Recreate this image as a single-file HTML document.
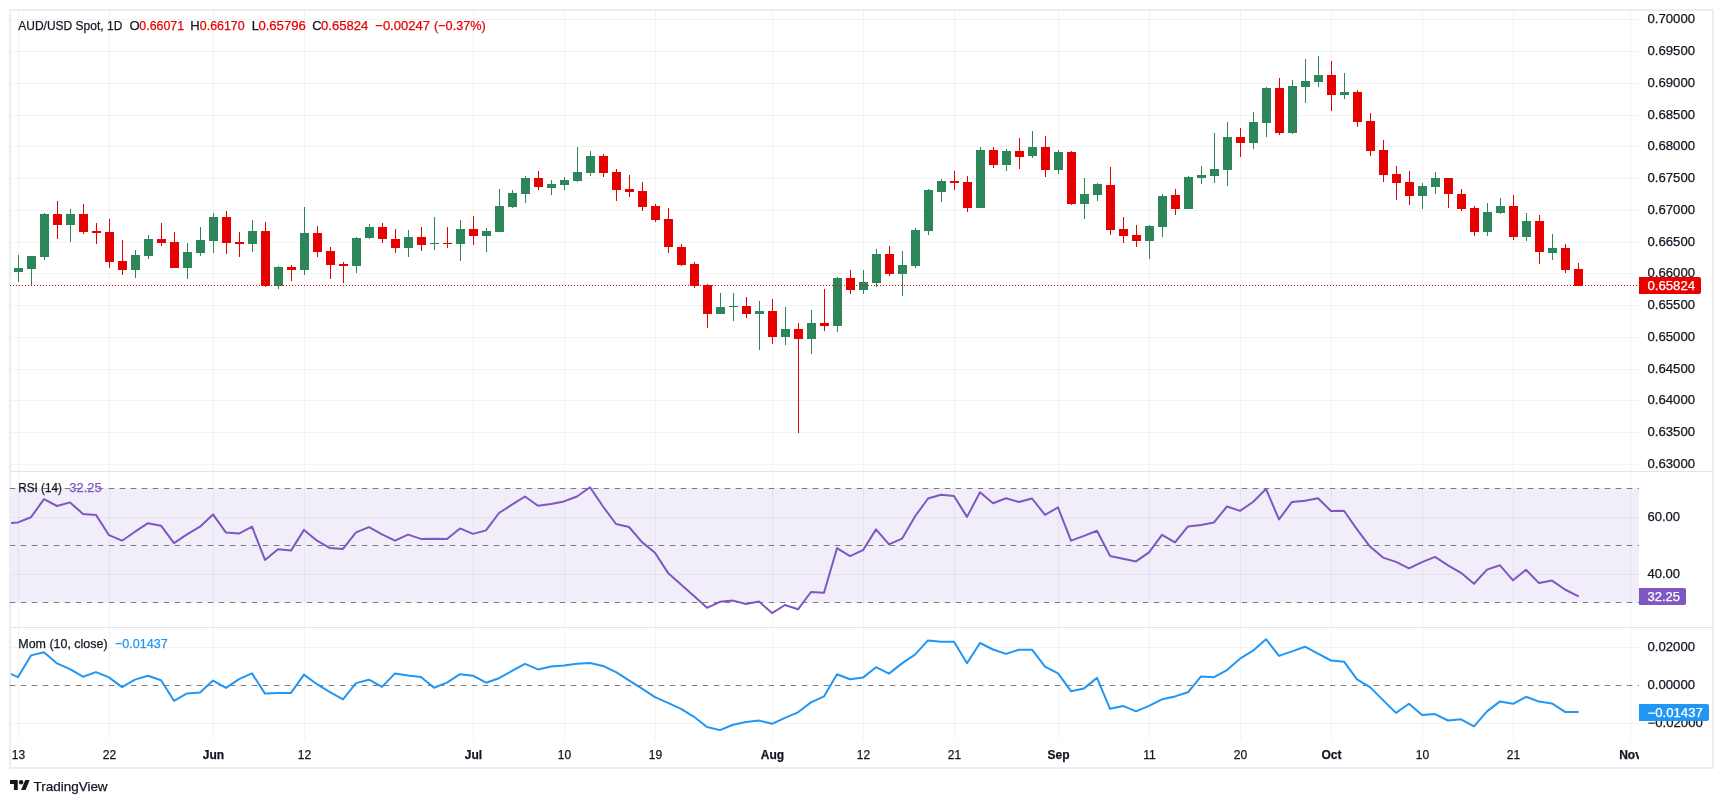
<!DOCTYPE html>
<html><head><meta charset="utf-8"><title>AUD/USD Spot chart</title>
<style>html,body{margin:0;padding:0;background:#fff;overflow:hidden}body{width:1723px;height:803px;font-family:"Liberation Sans",sans-serif}svg{display:block;position:absolute;left:0;top:0;will-change:transform;-webkit-font-smoothing:antialiased}</style></head>
<body>
<svg width="1723" height="803" viewBox="0 0 1723 803" shape-rendering="auto">
<rect x="0" y="0" width="1723" height="803" fill="#ffffff"/>
<rect x="11" y="488" width="1628" height="114.5" fill="#f2eef9"/>
<g fill="#2a2e39" fill-opacity="0.06"><rect x="18" y="11" width="1" height="729"/><rect x="109" y="11" width="1" height="729"/><rect x="213" y="11" width="1" height="729"/><rect x="304" y="11" width="1" height="729"/><rect x="473" y="11" width="1" height="729"/><rect x="564" y="11" width="1" height="729"/><rect x="655" y="11" width="1" height="729"/><rect x="772" y="11" width="1" height="729"/><rect x="863" y="11" width="1" height="729"/><rect x="954" y="11" width="1" height="729"/><rect x="1058" y="11" width="1" height="729"/><rect x="1149" y="11" width="1" height="729"/><rect x="1240" y="11" width="1" height="729"/><rect x="1331" y="11" width="1" height="729"/><rect x="1422" y="11" width="1" height="729"/><rect x="1513" y="11" width="1" height="729"/><rect x="1630" y="11" width="1" height="729"/><rect x="11" y="19" width="1628" height="1"/><rect x="11" y="51" width="1628" height="1"/><rect x="11" y="83" width="1628" height="1"/><rect x="11" y="115" width="1628" height="1"/><rect x="11" y="146" width="1628" height="1"/><rect x="11" y="178" width="1628" height="1"/><rect x="11" y="210" width="1628" height="1"/><rect x="11" y="242" width="1628" height="1"/><rect x="11" y="273" width="1628" height="1"/><rect x="11" y="305" width="1628" height="1"/><rect x="11" y="337" width="1628" height="1"/><rect x="11" y="369" width="1628" height="1"/><rect x="11" y="400" width="1628" height="1"/><rect x="11" y="432" width="1628" height="1"/><rect x="11" y="464" width="1628" height="1"/><rect x="11" y="517" width="1628" height="1"/><rect x="11" y="574" width="1628" height="1"/><rect x="11" y="647" width="1628" height="1"/><rect x="11" y="723" width="1628" height="1"/></g>
<rect x="11" y="471" width="1701" height="1" fill="#e0e3eb"/>
<rect x="11" y="627" width="1701" height="1" fill="#e0e3eb"/>
<rect x="10" y="10" width="1703" height="758" fill="none" stroke="#ebedf2" stroke-width="2"/>
<path d="M9.75 488.5H1639" stroke="#787b86" stroke-width="1" stroke-dasharray="5.5 5.5" fill="none"/>
<path d="M9.75 545.5H1639" stroke="#787b86" stroke-width="1" stroke-dasharray="5.5 5.5" fill="none"/>
<path d="M9.75 602.5H1639" stroke="#787b86" stroke-width="1" stroke-dasharray="5.5 5.5" fill="none"/>
<path d="M9.75 685.5H1639" stroke="#787b86" stroke-width="1" stroke-dasharray="5.5 5.5" fill="none"/>
<g fill="#2d8659"><rect x="18" y="255" width="1" height="27"/><rect x="14" y="268" width="9" height="4"/><rect x="31" y="256" width="1" height="30"/><rect x="27" y="256" width="9" height="13"/><rect x="44" y="213" width="1" height="47"/><rect x="40" y="214" width="9" height="43"/><rect x="70" y="209" width="1" height="33"/><rect x="66" y="214" width="9" height="11"/><rect x="135" y="250" width="1" height="28"/><rect x="131" y="255" width="9" height="15"/><rect x="148" y="235" width="1" height="24"/><rect x="144" y="239" width="9" height="17"/><rect x="187" y="243" width="1" height="36"/><rect x="183" y="252" width="9" height="16"/><rect x="200" y="227" width="1" height="29"/><rect x="196" y="240" width="9" height="13"/><rect x="213" y="213" width="1" height="40"/><rect x="209" y="217" width="9" height="24"/><rect x="252" y="220" width="1" height="32"/><rect x="248" y="231" width="9" height="13"/><rect x="278" y="266" width="1" height="23"/><rect x="274" y="267" width="9" height="19"/><rect x="304" y="207" width="1" height="68"/><rect x="300" y="233" width="9" height="37"/><rect x="356" y="237" width="1" height="36"/><rect x="352" y="238" width="9" height="28"/><rect x="369" y="224" width="1" height="15"/><rect x="365" y="227" width="9" height="11"/><rect x="408" y="230" width="1" height="27"/><rect x="404" y="237" width="9" height="11"/><rect x="434" y="217" width="1" height="33"/><rect x="430" y="243" width="9" height="1"/><rect x="460" y="220" width="1" height="41"/><rect x="456" y="229" width="9" height="15"/><rect x="486" y="228" width="1" height="24"/><rect x="482" y="231" width="9" height="5"/><rect x="499" y="189" width="1" height="43"/><rect x="495" y="206" width="9" height="26"/><rect x="512" y="190" width="1" height="18"/><rect x="508" y="193" width="9" height="14"/><rect x="525" y="176" width="1" height="27"/><rect x="521" y="178" width="9" height="16"/><rect x="551" y="180" width="1" height="15"/><rect x="547" y="184" width="9" height="4"/><rect x="564" y="177" width="1" height="13"/><rect x="560" y="180" width="9" height="5"/><rect x="577" y="147" width="1" height="35"/><rect x="573" y="172" width="9" height="9"/><rect x="590" y="151" width="1" height="25"/><rect x="586" y="156" width="9" height="17"/><rect x="720" y="293" width="1" height="21"/><rect x="716" y="307" width="9" height="7"/><rect x="733" y="293" width="1" height="28"/><rect x="729" y="306" width="9" height="1"/><rect x="759" y="301" width="1" height="49"/><rect x="755" y="311" width="9" height="3"/><rect x="785" y="307" width="1" height="38"/><rect x="781" y="329" width="9" height="8"/><rect x="811" y="310" width="1" height="44"/><rect x="807" y="323" width="9" height="16"/><rect x="837" y="277" width="1" height="55"/><rect x="833" y="278" width="9" height="48"/><rect x="863" y="270" width="1" height="24"/><rect x="859" y="282" width="9" height="8"/><rect x="876" y="249" width="1" height="38"/><rect x="872" y="254" width="9" height="29"/><rect x="902" y="251" width="1" height="45"/><rect x="898" y="265" width="9" height="9"/><rect x="915" y="228" width="1" height="40"/><rect x="911" y="230" width="9" height="36"/><rect x="928" y="189" width="1" height="46"/><rect x="924" y="190" width="9" height="41"/><rect x="941" y="179" width="1" height="23"/><rect x="937" y="181" width="9" height="11"/><rect x="980" y="147" width="1" height="61"/><rect x="976" y="150" width="9" height="58"/><rect x="1006" y="149" width="1" height="22"/><rect x="1002" y="151" width="9" height="14"/><rect x="1032" y="131" width="1" height="27"/><rect x="1028" y="147" width="9" height="9"/><rect x="1058" y="150" width="1" height="24"/><rect x="1054" y="152" width="9" height="18"/><rect x="1084" y="178" width="1" height="41"/><rect x="1080" y="194" width="9" height="10"/><rect x="1097" y="183" width="1" height="18"/><rect x="1093" y="184" width="9" height="11"/><rect x="1149" y="225" width="1" height="34"/><rect x="1145" y="226" width="9" height="15"/><rect x="1162" y="194" width="1" height="43"/><rect x="1158" y="196" width="9" height="31"/><rect x="1188" y="176" width="1" height="33"/><rect x="1184" y="177" width="9" height="32"/><rect x="1201" y="166" width="1" height="18"/><rect x="1197" y="175" width="9" height="3"/><rect x="1214" y="133" width="1" height="50"/><rect x="1210" y="169" width="9" height="7"/><rect x="1227" y="122" width="1" height="64"/><rect x="1223" y="137" width="9" height="33"/><rect x="1253" y="112" width="1" height="37"/><rect x="1249" y="122" width="9" height="21"/><rect x="1266" y="87" width="1" height="50"/><rect x="1262" y="88" width="9" height="35"/><rect x="1292" y="80" width="1" height="54"/><rect x="1288" y="86" width="9" height="47"/><rect x="1305" y="59" width="1" height="44"/><rect x="1301" y="81" width="9" height="6"/><rect x="1318" y="56" width="1" height="31"/><rect x="1314" y="75" width="9" height="7"/><rect x="1344" y="73" width="1" height="26"/><rect x="1340" y="92" width="9" height="3"/><rect x="1422" y="183" width="1" height="26"/><rect x="1418" y="186" width="9" height="10"/><rect x="1435" y="172" width="1" height="22"/><rect x="1431" y="178" width="9" height="9"/><rect x="1487" y="203" width="1" height="33"/><rect x="1483" y="212" width="9" height="20"/><rect x="1500" y="198" width="1" height="16"/><rect x="1496" y="206" width="9" height="7"/><rect x="1526" y="213" width="1" height="28"/><rect x="1522" y="221" width="9" height="16"/><rect x="1552" y="234" width="1" height="26"/><rect x="1548" y="248" width="9" height="5"/></g>
<g fill="#e60000"><rect x="57" y="201" width="1" height="38"/><rect x="53" y="214" width="9" height="11"/><rect x="83" y="204" width="1" height="30"/><rect x="79" y="214" width="9" height="18"/><rect x="96" y="223" width="1" height="21"/><rect x="92" y="231" width="9" height="2"/><rect x="109" y="219" width="1" height="49"/><rect x="105" y="232" width="9" height="30"/><rect x="122" y="240" width="1" height="35"/><rect x="118" y="261" width="9" height="9"/><rect x="161" y="223" width="1" height="23"/><rect x="157" y="239" width="9" height="4"/><rect x="174" y="232" width="1" height="36"/><rect x="170" y="242" width="9" height="26"/><rect x="226" y="211" width="1" height="43"/><rect x="222" y="217" width="9" height="26"/><rect x="239" y="232" width="1" height="25"/><rect x="235" y="242" width="9" height="2"/><rect x="265" y="222" width="1" height="65"/><rect x="261" y="231" width="9" height="55"/><rect x="291" y="265" width="1" height="16"/><rect x="287" y="267" width="9" height="3"/><rect x="317" y="226" width="1" height="31"/><rect x="313" y="233" width="9" height="19"/><rect x="330" y="247" width="1" height="32"/><rect x="326" y="251" width="9" height="14"/><rect x="343" y="262" width="1" height="21"/><rect x="339" y="264" width="9" height="2"/><rect x="382" y="223" width="1" height="20"/><rect x="378" y="227" width="9" height="12"/><rect x="395" y="229" width="1" height="24"/><rect x="391" y="239" width="9" height="9"/><rect x="421" y="227" width="1" height="24"/><rect x="417" y="237" width="9" height="8"/><rect x="447" y="227" width="1" height="21"/><rect x="443" y="243" width="9" height="1"/><rect x="473" y="216" width="1" height="29"/><rect x="469" y="229" width="9" height="7"/><rect x="538" y="171" width="1" height="19"/><rect x="534" y="178" width="9" height="9"/><rect x="603" y="154" width="1" height="23"/><rect x="599" y="156" width="9" height="17"/><rect x="616" y="169" width="1" height="32"/><rect x="612" y="172" width="9" height="18"/><rect x="629" y="175" width="1" height="22"/><rect x="625" y="189" width="9" height="3"/><rect x="642" y="182" width="1" height="29"/><rect x="638" y="191" width="9" height="16"/><rect x="655" y="204" width="1" height="18"/><rect x="651" y="206" width="9" height="14"/><rect x="668" y="208" width="1" height="45"/><rect x="664" y="219" width="9" height="28"/><rect x="681" y="244" width="1" height="22"/><rect x="677" y="247" width="9" height="18"/><rect x="694" y="262" width="1" height="26"/><rect x="690" y="264" width="9" height="22"/><rect x="707" y="284" width="1" height="44"/><rect x="703" y="285" width="9" height="29"/><rect x="746" y="297" width="1" height="21"/><rect x="742" y="306" width="9" height="8"/><rect x="772" y="299" width="1" height="45"/><rect x="768" y="311" width="9" height="26"/><rect x="798" y="323" width="1" height="110"/><rect x="794" y="329" width="9" height="10"/><rect x="824" y="289" width="1" height="42"/><rect x="820" y="323" width="9" height="3"/><rect x="850" y="270" width="1" height="24"/><rect x="846" y="278" width="9" height="12"/><rect x="889" y="246" width="1" height="30"/><rect x="885" y="254" width="9" height="20"/><rect x="954" y="171" width="1" height="19"/><rect x="950" y="181" width="9" height="2"/><rect x="967" y="176" width="1" height="36"/><rect x="963" y="182" width="9" height="26"/><rect x="993" y="147" width="1" height="21"/><rect x="989" y="150" width="9" height="15"/><rect x="1019" y="138" width="1" height="31"/><rect x="1015" y="151" width="9" height="6"/><rect x="1045" y="136" width="1" height="41"/><rect x="1041" y="147" width="9" height="23"/><rect x="1071" y="151" width="1" height="54"/><rect x="1067" y="152" width="9" height="52"/><rect x="1110" y="167" width="1" height="68"/><rect x="1106" y="185" width="9" height="45"/><rect x="1123" y="217" width="1" height="26"/><rect x="1119" y="229" width="9" height="7"/><rect x="1136" y="225" width="1" height="22"/><rect x="1132" y="235" width="9" height="6"/><rect x="1175" y="189" width="1" height="26"/><rect x="1171" y="195" width="9" height="14"/><rect x="1240" y="128" width="1" height="29"/><rect x="1236" y="137" width="9" height="6"/><rect x="1279" y="78" width="1" height="57"/><rect x="1275" y="88" width="9" height="45"/><rect x="1331" y="61" width="1" height="50"/><rect x="1327" y="75" width="9" height="20"/><rect x="1357" y="90" width="1" height="37"/><rect x="1353" y="92" width="9" height="30"/><rect x="1370" y="113" width="1" height="43"/><rect x="1366" y="121" width="9" height="30"/><rect x="1383" y="140" width="1" height="42"/><rect x="1379" y="150" width="9" height="25"/><rect x="1396" y="166" width="1" height="34"/><rect x="1392" y="174" width="9" height="9"/><rect x="1409" y="171" width="1" height="34"/><rect x="1405" y="182" width="9" height="14"/><rect x="1448" y="178" width="1" height="30"/><rect x="1444" y="178" width="9" height="16"/><rect x="1461" y="189" width="1" height="22"/><rect x="1457" y="194" width="9" height="15"/><rect x="1474" y="206" width="1" height="30"/><rect x="1470" y="208" width="9" height="24"/><rect x="1513" y="195" width="1" height="45"/><rect x="1509" y="206" width="9" height="31"/><rect x="1539" y="215" width="1" height="49"/><rect x="1535" y="221" width="9" height="31"/><rect x="1565" y="244" width="1" height="29"/><rect x="1561" y="248" width="9" height="22"/><rect x="1578" y="263" width="1" height="23"/><rect x="1574" y="269" width="9" height="17"/></g>
<path d="M10 285.5H1639" stroke="#e60000" stroke-width="1" stroke-dasharray="1 2" fill="none"/>
<clipPath id="cp"><rect x="11" y="11" width="1628" height="729"/></clipPath>
<polyline clip-path="url(#cp)" points="5.0,523.4 18.0,522.4 31.0,517.2 44.0,499.2 57.0,506.0 70.0,502.4 83.0,513.9 96.0,514.9 109.0,535.2 122.0,540.7 135.0,531.7 148.0,523.2 161.0,525.7 174.0,543.1 187.0,534.4 200.0,526.7 213.0,514.4 226.0,532.6 239.0,533.6 252.0,526.6 265.0,559.9 278.0,549.3 291.0,550.6 304.0,529.9 317.0,540.7 330.0,548.1 343.0,548.9 356.0,532.4 369.0,527.1 382.0,534.4 395.0,540.7 408.0,534.6 421.0,538.9 434.0,538.7 447.0,539.1 460.0,528.4 473.0,533.9 486.0,530.4 499.0,513.0 512.0,504.7 525.0,496.5 538.0,505.7 551.0,503.9 564.0,501.4 577.0,496.5 590.0,487.3 603.0,506.5 616.0,524.0 629.0,527.0 642.0,542.1 655.0,552.7 668.0,572.9 681.0,584.6 694.0,596.1 707.0,607.8 720.0,601.8 733.0,600.6 746.0,604.0 759.0,601.6 772.0,613.1 785.0,605.0 798.0,609.3 811.0,592.0 824.0,592.8 837.0,548.2 850.0,556.1 863.0,550.2 876.0,529.4 889.0,544.4 902.0,538.7 915.0,516.5 928.0,498.5 941.0,494.8 954.0,496.0 967.0,516.9 980.0,492.3 993.0,503.2 1006.0,498.2 1019.0,502.0 1032.0,498.5 1045.0,514.9 1058.0,507.4 1071.0,540.6 1084.0,535.9 1097.0,530.7 1110.0,555.9 1123.0,558.8 1136.0,561.4 1149.0,552.4 1162.0,534.9 1175.0,542.4 1188.0,526.4 1201.0,524.9 1214.0,522.4 1227.0,506.5 1240.0,510.9 1253.0,502.0 1266.0,489.0 1279.0,519.4 1292.0,501.9 1305.0,500.7 1318.0,498.2 1331.0,511.0 1344.0,510.7 1357.0,529.4 1370.0,546.6 1383.0,557.6 1396.0,561.9 1409.0,568.4 1422.0,562.1 1435.0,556.9 1448.0,565.3 1461.0,572.8 1474.0,583.8 1487.0,569.6 1500.0,565.3 1513.0,580.3 1526.0,569.8 1539.0,583.1 1552.0,580.6 1565.0,589.5 1578.0,596.1" fill="none" stroke="#7e57c2" stroke-width="2" stroke-linejoin="round" stroke-linecap="round"/>
<polyline clip-path="url(#cp)" points="5.0,671.4 18.0,677.1 31.0,655.4 44.0,652.2 57.0,663.4 70.0,669.1 83.0,676.7 96.0,672.1 109.0,677.4 122.0,687.1 135.0,679.6 148.0,675.7 161.0,680.2 174.0,700.8 187.0,693.4 200.0,692.4 213.0,680.6 226.0,687.9 239.0,679.2 252.0,673.4 265.0,693.6 278.0,693.1 291.0,692.9 304.0,674.6 317.0,684.2 330.0,692.1 343.0,699.3 356.0,683.1 369.0,679.7 382.0,686.9 395.0,673.4 408.0,675.6 421.0,676.9 434.0,687.7 447.0,682.6 460.0,674.2 473.0,675.7 486.0,682.7 499.0,678.2 512.0,670.9 525.0,663.9 538.0,669.4 551.0,666.6 564.0,665.6 577.0,663.7 590.0,663.1 603.0,665.9 616.0,672.2 629.0,680.4 642.0,688.7 655.0,697.1 668.0,702.8 681.0,708.9 694.0,716.8 707.0,727.0 720.0,730.1 733.0,724.8 746.0,722.1 759.0,720.6 772.0,723.8 785.0,717.8 798.0,712.3 811.0,702.4 824.0,696.4 837.0,674.2 850.0,679.2 863.0,677.6 876.0,667.2 889.0,673.6 902.0,663.4 915.0,654.7 928.0,640.4 941.0,641.7 954.0,641.7 967.0,663.2 980.0,643.0 993.0,649.5 1006.0,653.9 1019.0,649.7 1032.0,649.7 1045.0,666.6 1058.0,673.4 1071.0,691.2 1084.0,688.4 1097.0,677.9 1110.0,708.8 1123.0,705.9 1136.0,711.4 1149.0,705.9 1162.0,699.3 1175.0,696.4 1188.0,692.3 1201.0,676.4 1214.0,677.2 1227.0,670.1 1240.0,658.7 1253.0,650.7 1266.0,639.2 1279.0,655.9 1292.0,651.4 1305.0,646.7 1318.0,653.7 1331.0,660.5 1344.0,661.7 1357.0,679.4 1370.0,687.1 1383.0,700.1 1396.0,712.9 1409.0,703.8 1422.0,715.1 1435.0,714.1 1448.0,720.5 1461.0,719.3 1474.0,726.3 1487.0,711.4 1500.0,701.4 1513.0,703.8 1526.0,696.8 1539.0,701.6 1552.0,703.4 1565.0,711.9 1578.0,712.1" fill="none" stroke="#2196f3" stroke-width="2" stroke-linejoin="round" stroke-linecap="round"/>
<g font-family="Liberation Sans, sans-serif">
<text x="1647.5" y="23" font-size="12" fill="#131722" stroke="#131722" stroke-width="0.25" textLength="47.6" lengthAdjust="spacingAndGlyphs">0.70000</text>
<text x="1647.5" y="55" font-size="12" fill="#131722" stroke="#131722" stroke-width="0.25" textLength="47.6" lengthAdjust="spacingAndGlyphs">0.69500</text>
<text x="1647.5" y="87" font-size="12" fill="#131722" stroke="#131722" stroke-width="0.25" textLength="47.6" lengthAdjust="spacingAndGlyphs">0.69000</text>
<text x="1647.5" y="119" font-size="12" fill="#131722" stroke="#131722" stroke-width="0.25" textLength="47.6" lengthAdjust="spacingAndGlyphs">0.68500</text>
<text x="1647.5" y="150" font-size="12" fill="#131722" stroke="#131722" stroke-width="0.25" textLength="47.6" lengthAdjust="spacingAndGlyphs">0.68000</text>
<text x="1647.5" y="182" font-size="12" fill="#131722" stroke="#131722" stroke-width="0.25" textLength="47.6" lengthAdjust="spacingAndGlyphs">0.67500</text>
<text x="1647.5" y="214" font-size="12" fill="#131722" stroke="#131722" stroke-width="0.25" textLength="47.6" lengthAdjust="spacingAndGlyphs">0.67000</text>
<text x="1647.5" y="246" font-size="12" fill="#131722" stroke="#131722" stroke-width="0.25" textLength="47.6" lengthAdjust="spacingAndGlyphs">0.66500</text>
<text x="1647.5" y="277" font-size="12" fill="#131722" stroke="#131722" stroke-width="0.25" textLength="47.6" lengthAdjust="spacingAndGlyphs">0.66000</text>
<text x="1647.5" y="309" font-size="12" fill="#131722" stroke="#131722" stroke-width="0.25" textLength="47.6" lengthAdjust="spacingAndGlyphs">0.65500</text>
<text x="1647.5" y="341" font-size="12" fill="#131722" stroke="#131722" stroke-width="0.25" textLength="47.6" lengthAdjust="spacingAndGlyphs">0.65000</text>
<text x="1647.5" y="373" font-size="12" fill="#131722" stroke="#131722" stroke-width="0.25" textLength="47.6" lengthAdjust="spacingAndGlyphs">0.64500</text>
<text x="1647.5" y="404" font-size="12" fill="#131722" stroke="#131722" stroke-width="0.25" textLength="47.6" lengthAdjust="spacingAndGlyphs">0.64000</text>
<text x="1647.5" y="436" font-size="12" fill="#131722" stroke="#131722" stroke-width="0.25" textLength="47.6" lengthAdjust="spacingAndGlyphs">0.63500</text>
<text x="1647.5" y="468" font-size="12" fill="#131722" stroke="#131722" stroke-width="0.25" textLength="47.6" lengthAdjust="spacingAndGlyphs">0.63000</text>
<text x="1647.5" y="521" font-size="12" fill="#131722" stroke="#131722" stroke-width="0.25" textLength="32.6" lengthAdjust="spacingAndGlyphs">60.00</text>
<text x="1647.5" y="578" font-size="12" fill="#131722" stroke="#131722" stroke-width="0.25" textLength="32.6" lengthAdjust="spacingAndGlyphs">40.00</text>
<text x="1647.5" y="651" font-size="12" fill="#131722" stroke="#131722" stroke-width="0.25" textLength="47.6" lengthAdjust="spacingAndGlyphs">0.02000</text>
<text x="1647.5" y="689" font-size="12" fill="#131722" stroke="#131722" stroke-width="0.25" textLength="47.6" lengthAdjust="spacingAndGlyphs">0.00000</text>
<text x="1647.5" y="727" font-size="12" fill="#131722" stroke="#131722" stroke-width="0.25" textLength="55.3" lengthAdjust="spacingAndGlyphs">−0.02000</text>
<path d="M1639 277H1699a2 2 0 0 1 2 2V292a2 2 0 0 1 -2 2H1639Z" fill="#e60000"/>
<text x="1647.5" y="290" font-size="12" fill="#ffffff" stroke="#ffffff" stroke-width="0.25" textLength="47.6" lengthAdjust="spacingAndGlyphs">0.65824</text>
<path d="M1639 588H1684a2 2 0 0 1 2 2V603a2 2 0 0 1 -2 2H1639Z" fill="#7e57c2"/>
<text x="1647.5" y="601" font-size="12" fill="#ffffff" stroke="#ffffff" stroke-width="0.25" textLength="32.6" lengthAdjust="spacingAndGlyphs">32.25</text>
<path d="M1639 704H1707a2 2 0 0 1 2 2V719a2 2 0 0 1 -2 2H1639Z" fill="#2196f3"/>
<text x="1647.5" y="717" font-size="12" fill="#ffffff" stroke="#ffffff" stroke-width="0.25" textLength="55.3" lengthAdjust="spacingAndGlyphs">−0.01437</text>
<clipPath id="tc"><rect x="11" y="740" width="1628" height="27"/></clipPath><g clip-path="url(#tc)">
<text x="18.5" y="759.2" font-size="12" fill="#131722" stroke="#131722" stroke-width="0.25" text-anchor="middle">13</text>
<text x="109.5" y="759.2" font-size="12" fill="#131722" stroke="#131722" stroke-width="0.25" text-anchor="middle">22</text>
<text x="213.5" y="759.2" font-size="12" fill="#131722" stroke="#131722" stroke-width="0.25" font-weight="bold" text-anchor="middle">Jun</text>
<text x="304.5" y="759.2" font-size="12" fill="#131722" stroke="#131722" stroke-width="0.25" text-anchor="middle">12</text>
<text x="473.5" y="759.2" font-size="12" fill="#131722" stroke="#131722" stroke-width="0.25" font-weight="bold" text-anchor="middle">Jul</text>
<text x="564.5" y="759.2" font-size="12" fill="#131722" stroke="#131722" stroke-width="0.25" text-anchor="middle">10</text>
<text x="655.5" y="759.2" font-size="12" fill="#131722" stroke="#131722" stroke-width="0.25" text-anchor="middle">19</text>
<text x="772.5" y="759.2" font-size="12" fill="#131722" stroke="#131722" stroke-width="0.25" font-weight="bold" text-anchor="middle">Aug</text>
<text x="863.5" y="759.2" font-size="12" fill="#131722" stroke="#131722" stroke-width="0.25" text-anchor="middle">12</text>
<text x="954.5" y="759.2" font-size="12" fill="#131722" stroke="#131722" stroke-width="0.25" text-anchor="middle">21</text>
<text x="1058.5" y="759.2" font-size="12" fill="#131722" stroke="#131722" stroke-width="0.25" font-weight="bold" text-anchor="middle">Sep</text>
<text x="1149.5" y="759.2" font-size="12" fill="#131722" stroke="#131722" stroke-width="0.25" text-anchor="middle">11</text>
<text x="1240.5" y="759.2" font-size="12" fill="#131722" stroke="#131722" stroke-width="0.25" text-anchor="middle">20</text>
<text x="1331.5" y="759.2" font-size="12" fill="#131722" stroke="#131722" stroke-width="0.25" font-weight="bold" text-anchor="middle">Oct</text>
<text x="1422.5" y="759.2" font-size="12" fill="#131722" stroke="#131722" stroke-width="0.25" text-anchor="middle">10</text>
<text x="1513.5" y="759.2" font-size="12" fill="#131722" stroke="#131722" stroke-width="0.25" text-anchor="middle">21</text>
<text x="1630.5" y="759.2" font-size="12" fill="#131722" stroke="#131722" stroke-width="0.25" font-weight="bold" text-anchor="middle">Nov</text>
</g>
<text x="18.3" y="30" font-size="13" fill="#131722" stroke="#131722" stroke-width="0.25" textLength="104" lengthAdjust="spacingAndGlyphs">AUD/USD Spot, 1D</text>
<text x="129.5" y="30" font-size="13" fill="#131722" stroke="#131722" stroke-width="0.25">O</text>
<text x="139.3" y="30" font-size="13" fill="#e60000" stroke="#e60000" stroke-width="0.25" textLength="44.8" lengthAdjust="spacingAndGlyphs">0.66071</text>
<text x="190.3" y="30" font-size="13" fill="#131722" stroke="#131722" stroke-width="0.25">H</text>
<text x="199.8" y="30" font-size="13" fill="#e60000" stroke="#e60000" stroke-width="0.25" textLength="44.8" lengthAdjust="spacingAndGlyphs">0.66170</text>
<text x="251.8" y="30" font-size="13" fill="#131722" stroke="#131722" stroke-width="0.25">L</text>
<text x="258.4" y="30" font-size="13" fill="#e60000" stroke="#e60000" stroke-width="0.25" textLength="47.4" lengthAdjust="spacingAndGlyphs">0.65796</text>
<text x="312.2" y="30" font-size="13" fill="#131722" stroke="#131722" stroke-width="0.25">C</text>
<text x="321.0" y="30" font-size="13" fill="#e60000" stroke="#e60000" stroke-width="0.25" textLength="47.2" lengthAdjust="spacingAndGlyphs">0.65824</text>
<text x="375.3" y="30" font-size="13" fill="#e60000" stroke="#e60000" stroke-width="0.25" textLength="54.6" lengthAdjust="spacingAndGlyphs">−0.00247</text>
<text x="434.0" y="30" font-size="13" fill="#e60000" stroke="#e60000" stroke-width="0.25" textLength="51.8" lengthAdjust="spacingAndGlyphs">(−0.37%)</text>
<text x="18.3" y="492" font-size="13" fill="#131722" stroke="#131722" stroke-width="0.25" textLength="43.5" lengthAdjust="spacingAndGlyphs">RSI (14)</text>
<text x="69.2" y="492" font-size="13" fill="#7e57c2" stroke="#7e57c2" stroke-width="0.25" textLength="32.6" lengthAdjust="spacingAndGlyphs">32.25</text>
<text x="18.3" y="648" font-size="13" fill="#131722" stroke="#131722" stroke-width="0.25" textLength="89.3" lengthAdjust="spacingAndGlyphs">Mom (10, close)</text>
<text x="114.9" y="648" font-size="13" fill="#2196f3" stroke="#2196f3" stroke-width="0.25" textLength="52.8" lengthAdjust="spacingAndGlyphs">−0.01437</text>
<g transform="translate(10,777.8) scale(0.555)" fill="#131722"><path d="M14 22H7V11H0V4h14v18zM28 22h-8l7.5-18h8L28 22z"/><circle cx="20" cy="8" r="4"/></g>
<text x="33.6" y="790.8" font-size="13" fill="#131722" stroke="#131722" stroke-width="0.25" textLength="74" lengthAdjust="spacingAndGlyphs">TradingView</text>
</g>
</svg>
</body></html>
